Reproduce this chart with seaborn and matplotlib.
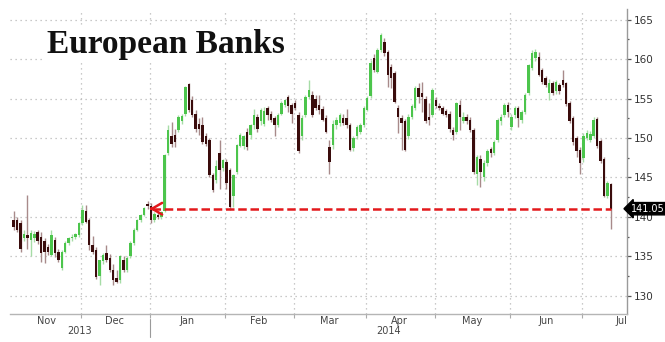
import numpy as np
import pandas as pd
import matplotlib
matplotlib.use("Agg")
import matplotlib.pyplot as plt
import matplotlib.transforms as mtransforms
from matplotlib.ticker import MultipleLocator
import seaborn as sns

# ---------------- data ----------------
open_prices = [
    139.6, 139.6, 139.3, 137.4, 137.7, 137.1, 137.3, 138.1, 137.5, 136.9,
    136.2, 135.2, 137.1, 135.6, 133.5, 135.6, 136.7, 137.3, 137.5, 137.7,
    139.2, 140.7, 139.6, 136.5, 135.8, 132.5, 134.4, 135.4, 134.8, 133.3,
    132.3, 132.0, 134.6, 133.3, 135.0, 136.7, 138.4, 139.6, 140.3, 141.7,
    141.4, 139.6, 140.3, 140.0, 140.8, 148.1, 150.3, 150.4, 151.0, 152.1,
    153.0, 156.8, 154.8, 153.1, 151.8, 151.6, 150.2, 149.7, 145.3, 144.7,
    148.1, 146.2, 147.0, 145.9, 142.6, 145.7, 149.0, 149.0, 150.8, 150.4,
    151.6, 152.6, 152.1, 151.8, 153.8, 153.1, 152.5, 151.6, 153.1, 154.2,
    155.2, 154.2, 154.4, 152.9, 150.2, 152.9, 155.2, 155.4, 155.0, 154.2,
    153.7, 152.5, 148.9, 149.1, 151.6, 151.9, 152.5, 152.5, 151.6, 148.7,
    150.2, 150.8, 151.6, 153.6, 155.3, 160.1, 158.4, 161.1, 162.2, 160.9,
    159.0, 158.2, 153.8, 152.5, 152.1, 150.2, 152.7, 153.8, 156.3, 155.7,
    155.0, 152.7, 152.9, 154.8, 154.0, 153.8, 153.4, 153.1, 151.0, 150.8,
    154.2, 152.2, 152.6, 152.3, 151.0, 145.5, 147.4, 145.1, 146.8, 148.6,
    148.1, 149.8, 152.1, 152.9, 154.2, 151.4, 152.9, 153.8, 152.3, 153.3,
    155.7, 158.9, 160.1, 160.3, 158.6, 157.6, 155.7, 156.9, 155.9, 156.7,
    157.4, 156.9, 154.4, 152.5, 150.0, 148.5, 147.5, 150.0, 149.8, 150.3,
    152.4, 149.6, 147.3, 142.7, 144.2,
]
high_prices = [
    140.7, 140.0, 139.6, 138.3, 142.8, 138.3, 138.2, 138.4, 138.1, 137.3,
    136.6, 138.3, 137.5, 135.9, 135.8, 136.9, 137.5, 137.8, 138.0, 139.4,
    141.5, 141.5, 139.9, 137.6, 136.2, 134.6, 135.4, 136.4, 135.3, 134.0,
    133.3, 135.2, 135.0, 135.0, 136.9, 138.6, 139.8, 140.4, 141.3, 142.0,
    141.8, 140.6, 140.8, 140.8, 148.0, 151.6, 152.0, 151.2, 152.9, 153.1,
    156.6, 157.0, 155.3, 153.5, 152.5, 152.7, 150.6, 150.0, 145.6, 147.2,
    149.7, 147.4, 147.4, 146.2, 145.5, 149.3, 150.6, 150.4, 151.3, 151.8,
    153.7, 153.1, 153.8, 153.9, 154.0, 153.4, 152.8, 153.2, 154.7, 155.0,
    155.4, 154.4, 154.8, 153.3, 152.9, 155.4, 157.3, 156.0, 155.4, 155.4,
    154.0, 152.9, 149.7, 152.3, 152.6, 153.2, 153.0, 153.7, 151.9, 150.3,
    151.7, 151.9, 154.0, 155.3, 159.9, 160.6, 161.4, 163.3, 162.6, 161.2,
    159.4, 158.5, 154.2, 152.9, 152.4, 153.0, 154.3, 156.6, 156.9, 157.1,
    155.3, 154.4, 156.3, 155.2, 154.4, 154.1, 153.7, 153.4, 151.4, 154.6,
    154.8, 153.3, 153.0, 152.6, 151.3, 147.9, 147.8, 147.2, 148.6, 148.9,
    149.8, 152.5, 153.0, 154.4, 154.6, 153.0, 154.0, 154.1, 153.6, 155.7,
    159.4, 161.2, 161.3, 160.9, 158.9, 157.9, 157.5, 157.2, 157.4, 157.0,
    158.6, 157.1, 154.7, 152.8, 150.3, 148.8, 150.6, 151.0, 150.9, 152.6,
    152.7, 149.9, 147.6, 144.5, 144.3,
]
low_prices = [
    138.3, 138.1, 135.6, 137.0, 136.0, 135.0, 136.8, 136.6, 134.3, 134.2,
    135.2, 135.0, 134.9, 134.3, 133.3, 135.4, 136.5, 137.0, 137.2, 137.5,
    139.0, 139.2, 135.8, 135.3, 132.2, 131.4, 134.0, 134.3, 133.0, 131.4,
    131.6, 131.6, 133.0, 133.1, 134.8, 136.5, 138.2, 139.4, 140.1, 141.0,
    139.3, 139.4, 139.8, 139.7, 140.6, 147.9, 148.8, 148.9, 150.8, 151.8,
    152.8, 153.3, 152.6, 150.8, 150.4, 149.3, 149.0, 145.1, 143.2, 144.3,
    143.6, 145.8, 143.5, 140.9, 141.3, 145.5, 148.8, 148.6, 148.5, 149.9,
    151.2, 150.8, 151.6, 151.5, 152.3, 152.0, 150.2, 151.4, 152.9, 153.9,
    153.3, 151.9, 153.5, 148.1, 149.8, 152.7, 155.0, 152.7, 153.5, 153.1,
    152.1, 150.6, 145.5, 148.6, 151.2, 151.5, 151.6, 151.3, 148.3, 148.3,
    149.9, 150.5, 151.4, 153.4, 155.1, 158.3, 158.2, 160.9, 160.4, 156.5,
    156.3, 154.4, 150.6, 148.5, 148.3, 149.9, 152.4, 153.6, 154.4, 153.3,
    151.9, 151.6, 152.6, 153.8, 153.5, 152.9, 152.6, 150.8, 149.8, 150.5,
    151.0, 151.9, 151.8, 150.8, 145.5, 144.1, 143.8, 144.6, 146.5, 147.6,
    147.8, 149.5, 151.6, 152.6, 152.7, 151.0, 152.5, 151.4, 151.9, 153.0,
    155.4, 158.6, 159.8, 157.8, 156.8, 156.4, 154.8, 155.5, 155.6, 155.6,
    156.4, 154.0, 151.9, 149.1, 147.6, 145.5, 147.0, 149.7, 149.5, 150.0,
    148.7, 146.8, 142.5, 142.4, 138.5,
]
close_prices = [
    138.7, 138.4, 135.9, 137.9, 137.3, 138.0, 137.9, 136.9, 135.4, 135.6,
    135.6, 137.7, 135.4, 134.6, 135.6, 136.7, 137.3, 137.5, 137.8, 139.2,
    140.9, 139.4, 136.5, 135.6, 132.4, 134.5, 135.2, 134.6, 133.3, 132.0,
    131.8, 135.0, 133.3, 134.8, 136.7, 138.4, 139.6, 140.2, 141.1, 141.4,
    139.6, 140.4, 140.0, 140.6, 147.8, 151.0, 149.2, 149.5, 152.7, 152.8,
    156.5, 153.6, 152.9, 151.2, 151.2, 149.5, 149.3, 145.3, 143.4, 146.4,
    146.0, 147.2, 144.3, 141.3, 145.3, 149.1, 150.4, 150.2, 148.9, 151.6,
    152.9, 151.2, 153.5, 153.4, 152.9, 152.3, 151.6, 152.9, 154.4, 154.8,
    154.0, 153.0, 153.8, 148.3, 152.5, 155.2, 156.1, 152.9, 153.8, 153.5,
    152.3, 150.8, 147.0, 151.8, 152.3, 152.9, 151.9, 151.6, 148.5, 150.0,
    151.4, 151.6, 153.8, 155.1, 159.5, 158.6, 161.1, 163.0, 160.7, 158.0,
    157.6, 154.6, 152.7, 151.9, 148.5, 152.7, 154.0, 156.3, 155.2, 155.2,
    152.1, 152.3, 156.1, 154.0, 153.8, 153.1, 152.9, 151.2, 150.4, 154.4,
    152.7, 152.6, 152.1, 151.0, 145.7, 147.6, 145.7, 146.8, 148.3, 148.1,
    149.5, 152.3, 152.7, 154.2, 153.3, 152.7, 153.8, 152.5, 153.3, 155.4,
    159.2, 160.7, 160.9, 158.0, 157.1, 156.7, 157.0, 155.7, 157.1, 155.9,
    156.7, 154.3, 152.2, 149.5, 148.3, 146.8, 150.3, 150.6, 150.5, 152.3,
    149.0, 147.1, 142.7, 144.3, 141.05,
]
month_labels = ["Nov", "Dec", "Jan", "Feb", "Mar", "Apr", "May", "Jun", "Jul"]
month_starts = [0, 20, 40, 62, 82, 103, 123, 145, 166]   # candle index of each month's first session
month_days = [20, 20, 22, 20, 21, 20, 22, 21, 23]         # sessions in the full month
year_labels = ["2013", "2014"]
title_text = "European Banks"
level_value = 141.05
level_from = 40          # candle where the reference level arrow points

# ---------------- style ----------------
sns.set_theme(style="white")
plt.rcParams["font.family"] = ["DejaVu Sans"]

df = pd.DataFrame({"o": open_prices, "h": high_prices, "l": low_prices, "c": close_prices})
df["x"] = np.arange(len(df))
up = df["c"] >= df["o"]
body = df["c"] - df["o"]
body = np.where(np.abs(body) < 0.18, np.where(up, 0.18, -0.18), body)

UP_BODY, UP_WICK = "#4cc54c", "#a6dca6"
DN_BODY, DN_WICK = "#3a0c0c", "#a88a8a"
GRID = "#b8b8b8"

fig = plt.figure(figsize=(6.65, 3.42), dpi=100)
ax = fig.add_axes([10 / 665, 28 / 342, 617 / 665, 305 / 342])

# candles
ax.vlines(df["x"][up], df["l"][up], df["h"][up], color=UP_WICK, lw=1.0, zorder=3)
ax.vlines(df["x"][~up], df["l"][~up], df["h"][~up], color=DN_WICK, lw=1.0, zorder=3)
ax.bar(df["x"][up], body[up], bottom=df["o"][up], width=0.72, color=UP_BODY, lw=0, zorder=4)
ax.bar(df["x"][~up], body[~up], bottom=df["o"][~up], width=0.72, color=DN_BODY, lw=0, zorder=4)

# red dashed level line
last_i = len(df) - 1
level_df = pd.DataFrame({"x": [level_from + 0.4, last_i], "y": [level_value, level_value]})
sns.lineplot(data=level_df, x="x", y="y", ax=ax, color="#e3191c", lw=1.8,
             linestyle=(0, (3.4, 1.5)), zorder=6, legend=False)
ax.annotate("", xy=(level_from - 1.2, level_value), xytext=(level_from + 1.0, level_value),
            arrowprops=dict(arrowstyle="->,head_length=0.6,head_width=0.35",
                            color="#e3191c", lw=1.8), zorder=7)

# axes limits
ax.set_xlim(-1.08, 178.7)
ax.set_ylim(127.72, 166.33)
ax.set_xlabel("")
ax.set_ylabel("")

# y axis on the right
ax.yaxis.tick_right()
ax.set_yticks(np.arange(130, 166, 5))
ax.yaxis.set_minor_locator(MultipleLocator(2.5))
ax.tick_params(axis="y", which="major", length=3, width=0.9, color="#555555",
               labelsize=7.5, labelcolor="#333333", pad=2, right=True, left=False)
ax.tick_params(axis="y", which="minor", length=1.5, width=0.9, color="#555555",
               right=True, left=False)

# x axis: month boundaries (grid) and centred month names
bounds = [s - 0.3 for s in month_starts[1:]]
centers = [s + (d - 1) / 2 for s, d in zip(month_starts, month_days)]
ax.set_xticks(bounds)
ax.set_xticklabels([])
ax.set_xticks(centers, minor=True)
ax.set_xticklabels(month_labels, minor=True)
ax.tick_params(axis="x", which="major", length=3, width=0.8, color="#aaaaaa",
               bottom=True, direction="out")
ax.tick_params(axis="x", which="minor", length=0, labelsize=7, labelcolor="#444444", pad=1.5)

ax.grid(True, which="major", axis="both", color=GRID, linestyle=(0, (1, 3)), lw=0.9)
ax.grid(False, which="minor")
ax.set_axisbelow(True)

for side in ["left", "top"]:
    ax.spines[side].set_visible(False)
ax.spines["right"].set_color("#9a9a9a")
ax.spines["right"].set_linewidth(1.0)
ax.spines["bottom"].set_color("#b5b5b5")
ax.spines["bottom"].set_linewidth(1.0)

# year labels and separator
blend = mtransforms.blended_transform_factory(ax.transData, ax.transAxes)
year_split = month_starts[2] - 0.3
xl = ax.get_xlim()
ax.text((xl[0] + year_split) / 2, -0.04, year_labels[0], transform=blend,
        ha="center", va="top", fontsize=7, color="#444444")
ax.text((year_split + xl[1]) / 2, -0.04, year_labels[1], transform=blend,
        ha="center", va="top", fontsize=7, color="#444444")
ax.plot([year_split, year_split], [-0.015, -0.075], transform=blend, clip_on=False,
        color="#9a9a9a", lw=0.8)

# last value tag
ax.annotate(f"{level_value:.2f}", xy=(1.0, level_value),
            xycoords=("axes fraction", "data"), xytext=(2.5, 0), textcoords="offset points",
            ha="left", va="center", fontsize=7, color="white", annotation_clip=False,
            bbox=dict(boxstyle="larrow,pad=0.12", fc="black", ec="black"), zorder=10)

# title
fig.text(47 / 665, 1 - 53 / 342, title_text, ha="left", va="baseline", fontsize=24,
         fontweight="bold", family=["Liberation Serif", "DejaVu Serif"], color="#111111",
         bbox=dict(fc="white", ec="none", pad=2))

fig.savefig("out.png", dpi=100)
